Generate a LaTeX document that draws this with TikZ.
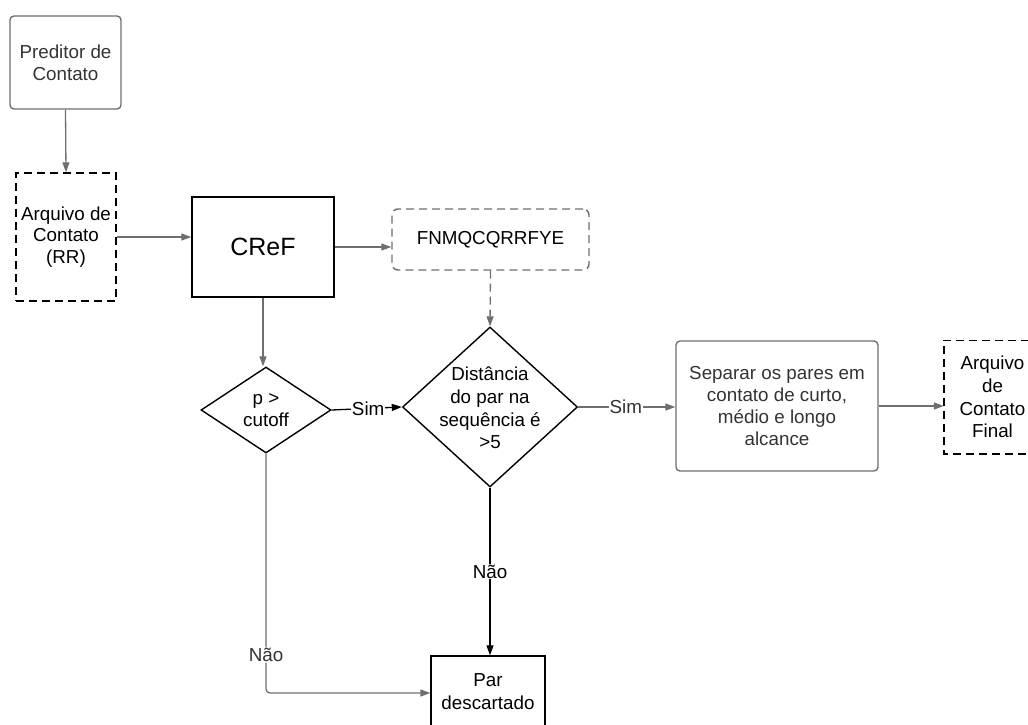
\documentclass[tikz,border=0pt]{standalone}
\usepackage{fontspec}
\setmainfont{Liberation Sans}
\usetikzlibrary{shapes.geometric,arrows.meta,calc}
\definecolor{lineGray}{HTML}{6E6E6E}
\definecolor{textGray}{HTML}{333333}
\tikzset{
  base/.style={draw, line width=1.4pt, inner sep=0pt, align=center,
    font=\fontsize{18.8}{21.8}\selectfont},
  graybox/.style={base, draw=lineGray, text=textGray, rounded corners=4pt},
  blackbox/.style={base, draw=black, text=black},
  dashbox/.style={base, dash pattern=on 8pt off 5pt},
  decision/.style={base, diamond, draw=black},
  conn/.style={line width=1.3pt, -{Triangle[length=10pt,width=7pt]}},
  grayconn/.style={conn, draw=lineGray},
  blackconn/.style={conn, draw=black},
  lbl/.style={fill=white, inner sep=1pt, font=\fontsize{18.8}{21.8}\selectfont}
}
\begin{document}
\begin{tikzpicture}[x=1pt,y=-1pt]
\useasboundingbox (0,0) rectangle (1028,725);

% nodes of the flow
\node[graybox, minimum width=111pt, minimum height=93pt] (pred) at (65.5,62.5) {Preditor de\\Contato};
\node[dashbox, draw=black, minimum width=100pt, minimum height=128pt] (arq) at (66,237) {Arquivo de\\Contato\\(RR)};
\node[blackbox, minimum width=142pt, minimum height=100pt, font=\fontsize{25}{30}\selectfont] (cref) at (263,247) {CReF};
\node[dashbox, draw=lineGray, rounded corners=6pt, minimum width=197pt, minimum height=61pt] (seq) at (490.5,239.5) {FNMQCQRRFYE};
\node[decision, minimum width=130pt, minimum height=86pt,
      label={[align=center, font=\fontsize{18.8}{21.8}\selectfont]center:p >\\cutoff}] (cut) at (266,410) {};
\node[decision, minimum width=175pt, minimum height=160pt,
      label={[align=center, font=\fontsize{18.8}{22.8}\selectfont, yshift=-1pt]center:Distância\\do par na\\sequência é\\>5}] (dist) at (490,407) {};
\node[graybox, minimum width=202pt, minimum height=130pt] (sep) at (777,406) {Separar os pares em\\contato de curto,\\médio e longo\\alcance};
% output file box: its right side lies past the page edge, so only three sides are drawn
\node[base, draw=none, minimum width=110pt, minimum height=112pt,
      label={[align=center, font=\fontsize{18.8}{22.8}\selectfont, xshift=-7pt]center:Arquivo\\de\\Contato\\Final}] (final) at (999.5,397) {};
\draw[draw=black, line width=1.6pt, dash pattern=on 8pt off 5pt]
  (final.north east) -- (final.north west) -- (final.south west) -- (final.south east);
\node[blackbox, minimum width=114pt, minimum height=88pt,
      label={[align=center, font=\fontsize{18.8}{22.8}\selectfont, yshift=8pt]center:Par\\descartado}] (par) at (488,700) {};

% connectors
\draw[grayconn] (pred.south) -- (arq.north);
\draw[grayconn] (arq.east) -- (arq.east -| cref.west);
\draw[grayconn] (cref.east) -- (cref.east -| seq.west);
\draw[grayconn, dash pattern=on 8pt off 5pt] (seq.south) -- (dist.north);
\draw[grayconn] (cref.south) -- (cref.south |- cut.north);
\draw[blackconn] (cut.east) -- node[lbl, pos=0.52] {Sim} (dist.west);
\draw[grayconn] (dist.east) -- node[lbl, pos=0.49, text=textGray] {Sim} (dist.east -| sep.west);
\draw[grayconn] (sep.east) -- (sep.east -| final.west);
\draw[blackconn] (dist.south) -- node[lbl, pos=0.5] {Não} (dist.south |- par.north);
\coordinate (parin) at ([yshift=7pt]par.west);
\draw[grayconn, rounded corners=4pt] (cut.south) -- node[lbl, pos=0.84, text=textGray] {Não} (cut.south |- parin) -- (parin);
\end{tikzpicture}
\end{document}
